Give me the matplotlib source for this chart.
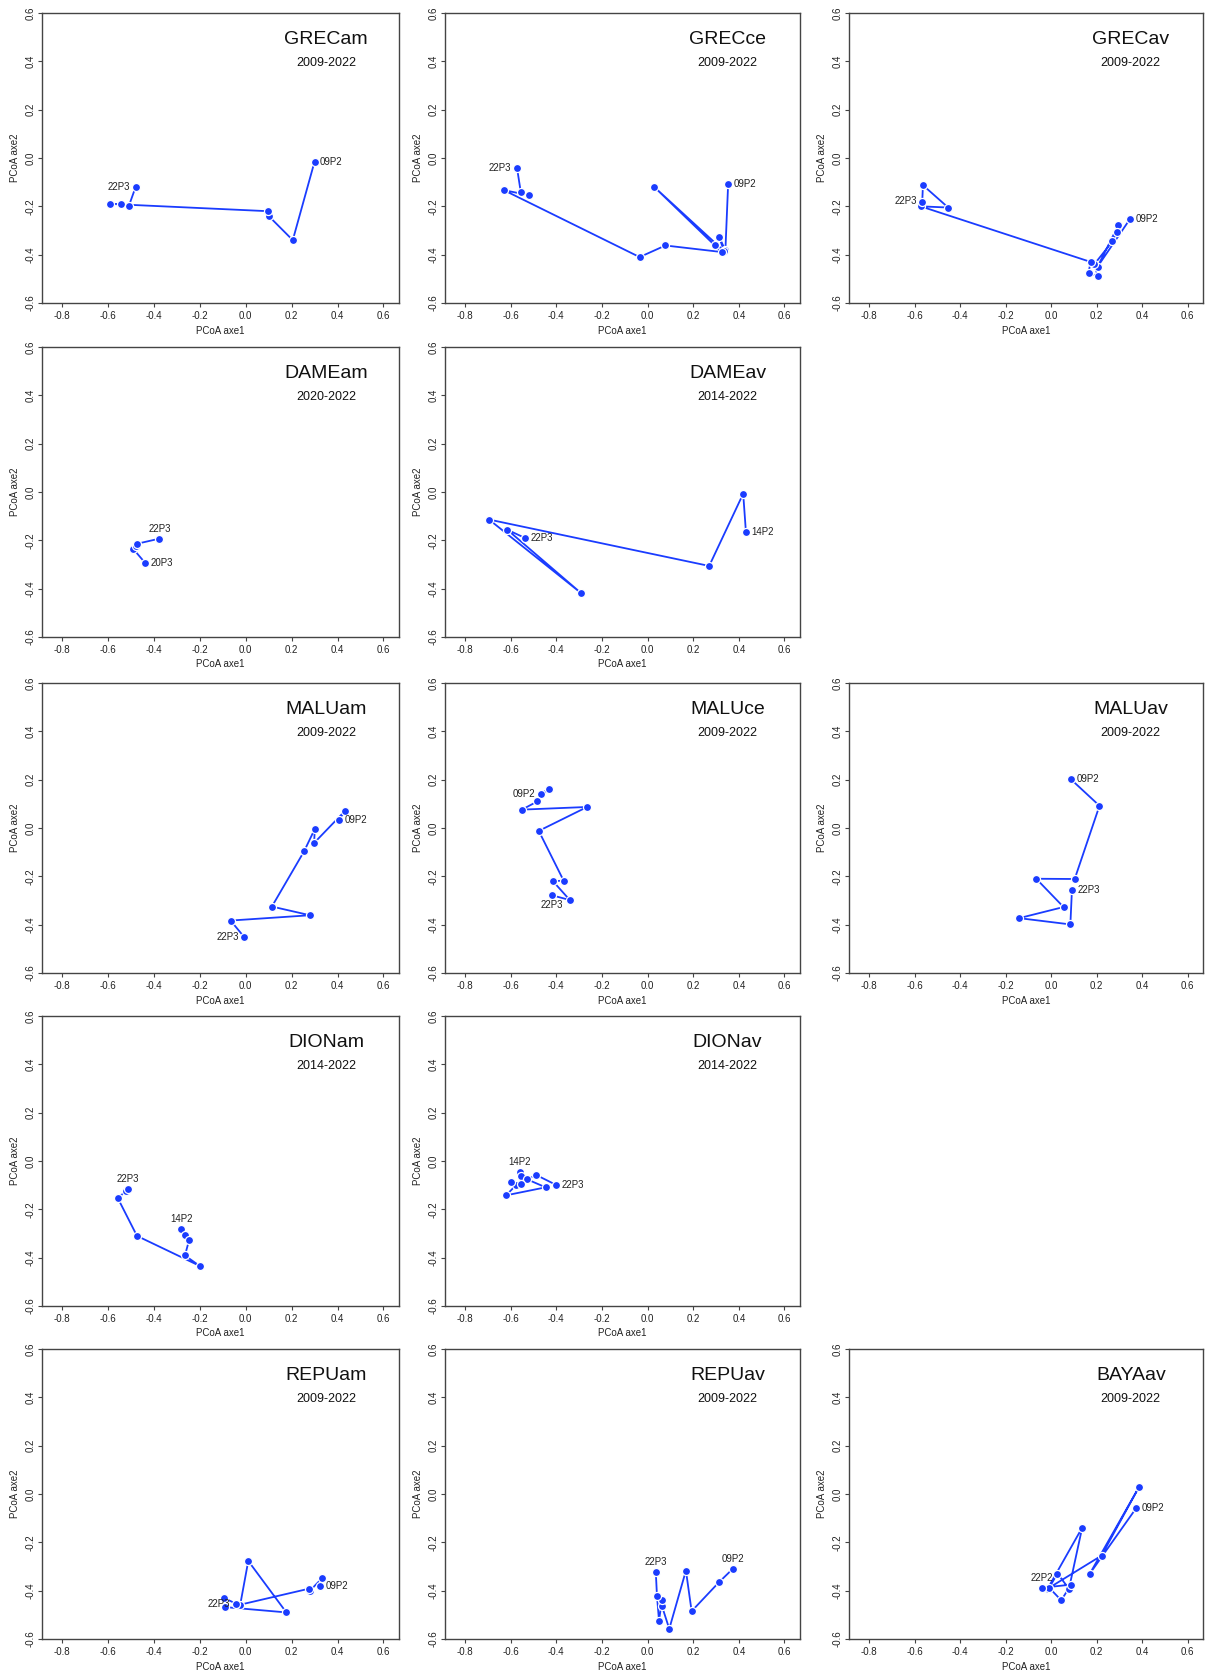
import matplotlib
matplotlib.use('Agg')
import matplotlib.pyplot as plt

plt.rcParams['font.family'] = ['Liberation Sans', 'DejaVu Sans']

# ---------------- data (PCoA axe1 / axe2 trajectories) ----------------
grecam_x = [0.30, 0.205, 0.10, 0.095, -0.59, -0.545, -0.51, -0.48]
grecam_y = [-0.015, -0.34, -0.24, -0.22, -0.19, -0.19, -0.20, -0.12]

grecce_x = [0.353, 0.341, 0.313, 0.335, 0.027, 0.295, 0.324, 0.078, -0.035, -0.63, -0.52, -0.556, -0.572]
grecce_y = [-0.108, -0.382, -0.326, -0.385, -0.118, -0.362, -0.389, -0.362, -0.41, -0.133, -0.154, -0.14, -0.043]

grecav_x = [0.346, 0.205, 0.296, 0.289, 0.27, 0.19, 0.206, 0.165, 0.174, -0.573, -0.452, -0.563, -0.566]
grecav_y = [-0.254, -0.449, -0.278, -0.305, -0.345, -0.44, -0.49, -0.474, -0.43, -0.20, -0.205, -0.1125, -0.18]

dameam_x = [-0.437, -0.49, -0.48, -0.473, -0.376]
dameam_y = [-0.295, -0.236, -0.225, -0.214, -0.193]

dameav_x = [0.431, 0.419, 0.27, -0.695, -0.292, -0.615, -0.538]
dameav_y = [-0.166, -0.007, -0.306, -0.114, -0.418, -0.156, -0.19]

maluam_x = [0.407, 0.433, 0.298, 0.301, 0.254, 0.114, 0.28, -0.066, -0.007]
maluam_y = [0.035, 0.071, -0.062, -0.004, -0.097, -0.325, -0.361, -0.383, -0.451]

maluce_x = [-0.466, -0.432, -0.483, -0.551, -0.265, -0.477, -0.368, -0.415, -0.341, -0.421]
maluce_y = [0.142, 0.163, 0.110, 0.076, 0.087, -0.012, -0.218, -0.22, -0.298, -0.278]

maluav_x = [0.088, 0.213, 0.104, -0.065, 0.055, -0.14, 0.085, 0.092]
maluav_y = [0.201, 0.092, -0.211, -0.21, -0.327, -0.373, -0.399, -0.255]

dionam_x = [-0.28, -0.263, -0.247, -0.265, -0.201, -0.474, -0.558, -0.523, -0.514]
dionam_y = [-0.281, -0.306, -0.328, -0.391, -0.434, -0.31, -0.153, -0.126, -0.116]

dionav_x = [-0.56, -0.556, -0.53, -0.447, -0.62, -0.575, -0.599, -0.556, -0.49, -0.403]
dionav_y = [-0.046, -0.061, -0.075, -0.109, -0.142, -0.098, -0.087, -0.094, -0.057, -0.098]

repuam_x = [0.323, 0.333, 0.278, 0.275, -0.024, 0.011, 0.177, -0.09, -0.093, -0.042]
repuam_y = [-0.379, -0.348, -0.402, -0.392, -0.458, -0.277, -0.49, -0.468, -0.431, -0.454]

repuav_x = [0.374, 0.312, 0.193, 0.168, 0.095, 0.063, 0.063, 0.05, 0.041, 0.036]
repuav_y = [-0.309, -0.366, -0.485, -0.317, -0.558, -0.464, -0.439, -0.524, -0.42, -0.324]

bayaav_x = [0.374, 0.171, 0.388, 0.222, -0.015, 0.137, 0.079, 0.028, -0.008, 0.045, 0.088, -0.04]
bayaav_y = [-0.059, -0.329, 0.031, -0.255, -0.392, -0.139, -0.392, -0.329, -0.388, -0.44, -0.375, -0.388]

names = ['GRECam', 'GRECce', 'GRECav', 'DAMEam', 'DAMEav',
         'MALUam', 'MALUce', 'MALUav', 'DIONam', 'DIONav',
         'REPUam', 'REPUav', 'BAYAav']
years = ['2009-2022', '2009-2022', '2009-2022', '2020-2022', '2014-2022',
         '2009-2022', '2009-2022', '2009-2022', '2014-2022', '2014-2022',
         '2009-2022', '2009-2022', '2009-2022']
first_labels = ['09P2', '09P2', '09P2', '20P3', '14P2', '09P2', '09P2', '09P2',
                '14P2', '14P2', '09P2', '09P2', '09P2']
last_labels = ['22P3', '22P3', '22P3', '22P3', '22P3', '22P3', '22P3', '22P3',
               '22P3', '22P3', '22P3', '22P3', '22P2']
xs = [grecam_x, grecce_x, grecav_x, dameam_x, dameav_x, maluam_x, maluce_x,
      maluav_x, dionam_x, dionav_x, repuam_x, repuav_x, bayaav_x]
ys = [grecam_y, grecce_y, grecav_y, dameam_y, dameav_y, maluam_y, maluce_y,
      maluav_y, dionam_y, dionav_y, repuam_y, repuav_y, bayaav_y]

xtick_vals = [-0.8, -0.6, -0.4, -0.2, 0.0, 0.2, 0.4, 0.6]
xtick_labels = ['-0.8', '-0.6', '-0.4', '-0.2', '0.0', '0.2', '0.4', '0.6']
ytick_vals = [-0.6, -0.4, -0.2, 0.0, 0.2, 0.4, 0.6]
ytick_labels = ['-0.6', '-0.4', '-0.2', '0.0', '0.2', '0.4', '0.6']

# ---------------- layout / style ----------------
W, H = 1205, 1675
fig = plt.figure(figsize=(W / 100, H / 100), dpi=100)
fig.patch.set_facecolor('white')

col_left = [42, 445, 849]
col_w = [357, 355, 354]
row_top = [13, 347, 683, 1016, 1349]
row_h = 290
grid = [(0, 0), (0, 1), (0, 2), (1, 0), (1, 1), (2, 0), (2, 1), (2, 2),
        (3, 0), (3, 1), (4, 0), (4, 1), (4, 2)]
first_pos = ['r', 'r', 'r', 'r', 'r', 'r', 'l', 'r', 'a', 'a', 'r', 'a', 'r']
last_pos = ['l', 'l', 'l', 'a', 'r', 'l', 'b', 'r', 'a', 'r', 'l', 'a', 'a']

BLUE = '#1a3cff'
TXT = '#222222'
offs = {'r': ((4, 0), 'left', 'center'), 'l': ((-4, 0), 'right', 'center'),
        'a': ((0, 3.5), 'center', 'bottom'), 'b': ((0, -3.5), 'center', 'top')}


def annotate(ax, x, y, text, pos):
    (dx, dy), ha, va = offs[pos]
    ax.annotate(text, (x, y), xytext=(dx, dy), textcoords='offset points',
                ha=ha, va=va, fontsize=7, color=TXT)


for i, name in enumerate(names):
    r, c = grid[i]
    left = col_left[c] / W
    bottom = 1 - (row_top[r] + row_h) / H
    ax = fig.add_axes([left, bottom, col_w[c] / W, row_h / H])
    ax.plot(xs[i], ys[i], '-', color=BLUE, lw=1.3, zorder=2)
    ax.plot(xs[i], ys[i], 'o', color=BLUE, ms=5.8, mec='white', mew=0.9, zorder=3)
    annotate(ax, xs[i][0], ys[i][0], first_labels[i], first_pos[i])
    annotate(ax, xs[i][-1], ys[i][-1], last_labels[i], last_pos[i])

    ax.set_xlim(-0.888, 0.668)
    ax.set_ylim(-0.6, 0.6)
    ax.set_xticks(xtick_vals)
    ax.set_xticklabels(xtick_labels, fontsize=7, color=TXT)
    ax.set_yticks(ytick_vals)
    ax.set_yticklabels(ytick_labels, fontsize=7, color=TXT, rotation=90, va='center')
    ax.tick_params(axis='both', length=3, width=0.8, colors='#444444', labelcolor=TXT)
    ax.tick_params(axis='x', pad=3)
    ax.tick_params(axis='y', pad=1.5)
    for s in ax.spines.values():
        s.set_color('#444444')
        s.set_linewidth(1.0)
    ax.set_xlabel('PCoA axe1', fontsize=7, color=TXT, labelpad=3)
    ax.set_ylabel('PCoA axe2', fontsize=7, color=TXT, labelpad=4)

    ax.text(0.796, 0.91, name, transform=ax.transAxes, ha='center', va='center',
            fontsize=14, color='#111111')
    ax.text(0.796, 0.828, years[i], transform=ax.transAxes, ha='center', va='center',
            fontsize=9, color='#111111')

fig.savefig('out.png', dpi=100, facecolor='white')
